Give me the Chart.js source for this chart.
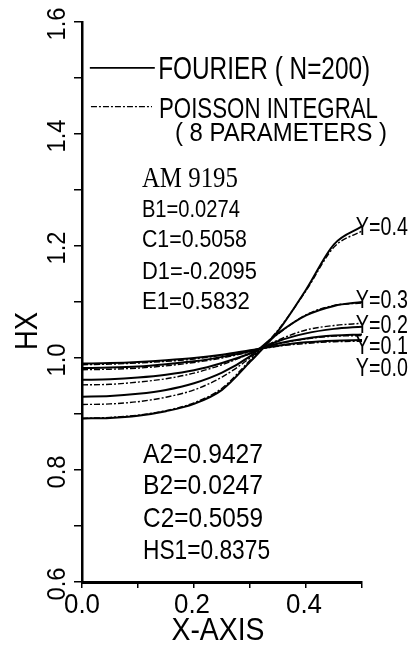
<!DOCTYPE html>
<html>
<head>
<meta charset="utf-8">
<script src="https://cdn.jsdelivr.net/npm/chart.js@4/dist/chart.umd.min.js"></script>
<style>
  html, body { margin: 0; padding: 0; background: #fff; }
</style>
</head>
<body>
<canvas id="myChart" width="413" height="646"></canvas>
<script>
// x positions of the read-off samples
const xValues = [0, 0.05, 0.1, 0.15, 0.2, 0.25, 0.3, 0.35, 0.4, 0.45, 0.5];

// Fourier (N=200), solid lines
const fourierY00 = [0.990, 0.991, 0.993, 0.996, 1.000, 1.006, 1.014, 1.022, 1.028, 1.031, 1.032];
const fourierY01 = [0.982, 0.983, 0.985, 0.989, 0.994, 1.002, 1.012, 1.026, 1.035, 1.040, 1.042];
const fourierY02 = [0.961, 0.962, 0.965, 0.970, 0.978, 0.991, 1.008, 1.030, 1.044, 1.052, 1.056];
const fourierY03 = [0.931, 0.932, 0.936, 0.943, 0.955, 0.974, 1.003, 1.044, 1.076, 1.093, 1.100];
const fourierY04 = [0.892, 0.893, 0.897, 0.905, 0.918, 0.943, 0.993, 1.048, 1.122, 1.203, 1.235];

// Poisson integral (8 parameters), dash-dot lines
const poissonY00 = [0.988, 0.989, 0.991, 0.994, 0.998, 1.005, 1.013, 1.021, 1.026, 1.029, 1.030];
const poissonY01 = [0.979, 0.980, 0.982, 0.986, 0.992, 1.000, 1.011, 1.025, 1.034, 1.039, 1.040];
const poissonY02 = [0.952, 0.953, 0.957, 0.963, 0.973, 0.988, 1.008, 1.032, 1.050, 1.058, 1.062];
const poissonY03 = [0.917, 0.918, 0.922, 0.930, 0.943, 0.966, 1.000, 1.043, 1.077, 1.094, 1.098];
const poissonY04 = [0.892, 0.894, 0.898, 0.906, 0.920, 0.946, 0.996, 1.050, 1.120, 1.198, 1.227];

const yTickValues = [0.6, 0.8, 1.0, 1.2, 1.4, 1.6];
const yTickLabels = ['0.6', '0.8', '1.0', '1.2', '1.4', '1.6'];
const xTickValues = [0, 0.2, 0.4];
const xTickLabels = ['0.0', '0.2', '0.4'];
const curveLabels = ['Y=0.4', 'Y=0.3', 'Y=0.2', 'Y=0.1', 'Y=0.0'];
const paramsTop = ['B1=0.0274', 'C1=0.5058', 'D1=-0.2095', 'E1=0.5832'];
const paramsBottom = ['A2=0.9427', 'B2=0.0247', 'C2=0.5059', 'HS1=0.8375'];

const toPts = arr => xValues.map((x, i) => ({ x: x, y: arr[i] }));

let solid = arr => ({
  data: toPts(arr), borderColor: '#000', borderWidth: 2,
  pointRadius: 0, fill: false, cubicInterpolationMode: 'monotone'
});
let dashed = arr => ({
  data: toPts(arr), borderColor: '#000', borderWidth: 1.4, borderDash: [6, 2, 2, 2],
  pointRadius: 0, fill: false, cubicInterpolationMode: 'monotone'
});

// squeeze text to a given cap height and width (plotter-like condensed lettering)
function drawFit(ctx, str, x, y, capH, width, o) {
  o = o || {};
  const ratio = o.capRatio || 0.716;
  const size = capH / ratio;
  ctx.save();
  ctx.font = size + 'px ' + (o.family || '"Liberation Sans", Arial, sans-serif');
  const w = ctx.measureText(str).width;
  ctx.translate(x, y);
  if (o.rotate) ctx.rotate(o.rotate);
  ctx.scale(width / w, 1);
  ctx.textAlign = o.align || 'left';
  ctx.textBaseline = 'alphabetic';
  ctx.fillStyle = '#000';
  ctx.fillText(str, 0, capH / 2);
  ctx.restore();
}

const textPlugin = {
  id: 'texts',
  afterDraw(chart) {
    const ctx = chart.ctx;
    const xs = chart.scales.x, ys = chart.scales.y;
    const px = v => xs.getPixelForValue(v), py = v => ys.getPixelForValue(v);
    const area = chart.chartArea;

    // axis tick labels
    yTickValues.forEach((v, i) => {
      drawFit(ctx, yTickLabels[i], area.left - 27, py(v) + 2, 19, 33, { align: 'center', rotate: -Math.PI / 2 });
    });
    xTickValues.forEach((v, i) => {
      drawFit(ctx, xTickLabels[i], px(v) - (i ? 2 : 0), area.bottom + 21, 20, 36, { align: 'center' });
    });
    drawFit(ctx, 'X-AXIS', (area.left + area.right) / 2 - 4, area.bottom + 46, 23, 93, { align: 'center' });
    drawFit(ctx, 'HX', 26, py(1.048), 22, 38, { align: 'center', rotate: -Math.PI / 2 });

    // legend
    ctx.save();
    ctx.strokeStyle = '#000';
    ctx.lineWidth = 1.6;
    ctx.beginPath();
    ctx.moveTo(px(0.014), py(1.518));
    ctx.lineTo(px(0.130), py(1.518));
    ctx.stroke();
    ctx.lineWidth = 1.3;
    ctx.setLineDash([6, 2, 2, 2]);
    ctx.beginPath();
    ctx.moveTo(px(0.016), py(1.449));
    ctx.lineTo(px(0.125), py(1.449));
    ctx.stroke();
    ctx.restore();
    drawFit(ctx, 'FOURIER ( N=200)', px(0.136), py(1.518), 22, 212);
    drawFit(ctx, 'POISSON INTEGRAL', px(0.1375), py(1.447), 21, 219);
    drawFit(ctx, '( 8 PARAMETERS )', px(0.166), py(1.405), 19, 212);

    // parameter notes
    drawFit(ctx, 'AM 9195', px(0.107), py(1.322), 19, 96,
      { family: '"Liberation Serif", "Times New Roman", serif', capRatio: 0.662 });
    const topY = [1.267, 1.213, 1.157, 1.102];
    const topW = [98, 105, 115, 108];
    paramsTop.forEach((s, i) => drawFit(ctx, s, px(0.107), py(topY[i]), 17, topW[i]));
    const botY = [0.830, 0.775, 0.716, 0.659];
    const botW = [120, 120, 120, 127];
    paramsBottom.forEach((s, i) => drawFit(ctx, s, px(0.109), py(botY[i]), 20, botW[i]));

    // curve labels at the right end
    const labY = [1.2375, 1.107, 1.0625, 1.025, 0.984];
    curveLabels.forEach((s, i) => drawFit(ctx, s, px(0.489), py(labY[i]), 19, 52));
  }
};

let ctx = document.getElementById('myChart').getContext('2d');
let chart = new Chart(ctx, {
  type: 'line',
  data: {
    datasets: [
      solid(fourierY00), dashed(poissonY00),
      solid(fourierY01), dashed(poissonY01),
      solid(fourierY02), dashed(poissonY02),
      solid(fourierY03), dashed(poissonY03),
      solid(fourierY04), dashed(poissonY04)
    ]
  },
  options: {
    responsive: false,
    animation: false,
    devicePixelRatio: 1,
    layout: { padding: { top: 22, right: 51, left: 0, bottom: 0 } },
    plugins: { legend: { display: false }, tooltip: { enabled: false } },
    scales: {
      x: {
        type: 'linear', min: 0, max: 0.5,
        ticks: { stepSize: 0.1, display: false },
        grid: { drawOnChartArea: false, drawTicks: true, tickLength: 6, color: '#000', lineWidth: 1.5 },
        border: { display: true, color: '#000', width: 3 },
        afterFit: s => { s.height = 64; }
      },
      y: {
        type: 'linear', min: 0.6, max: 1.6,
        ticks: { stepSize: 0.1, display: false },
        grid: { drawOnChartArea: false, drawTicks: true, tickLength: 8, color: '#000', lineWidth: 1.5 },
        border: { display: true, color: '#000', width: 2.5 },
        afterFit: s => { s.width = 82; }
      }
    }
  },
  plugins: [textPlugin]
});
</script>
</body>
</html>
